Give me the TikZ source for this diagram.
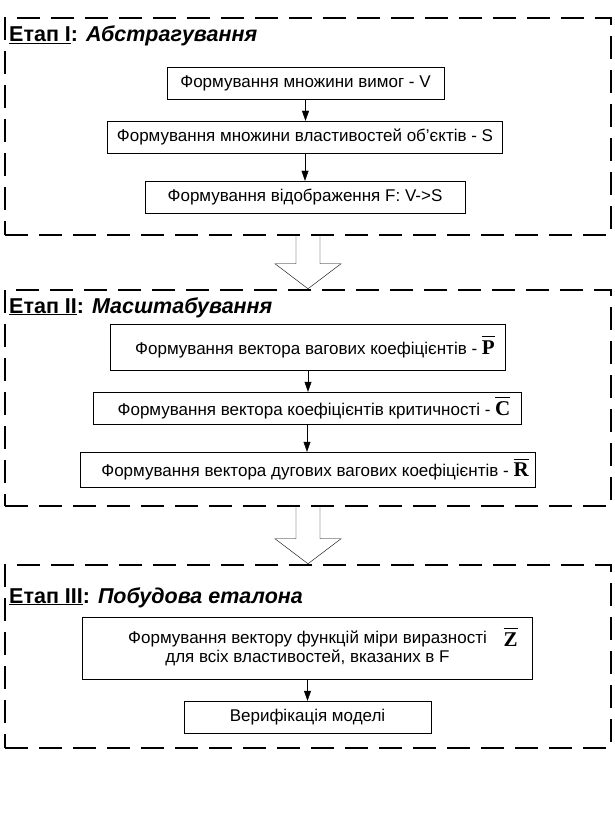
\documentclass[tikz,border=0pt]{standalone}
\usepackage{fontspec}
\setmainfont{Liberation Sans}
\newfontfamily\serifbf{Liberation Serif}
\usetikzlibrary{calc}
\usetikzlibrary{arrows.meta, positioning}
\newcommand{\barvec}[1]{\leavevmode\vbox{\hrule height 1.2pt \kern 3.5pt \hbox{\serifbf\bfseries\fontsize{21pt}{21pt}\selectfont #1}}} % bold letter with a bar over it
\newcommand{\stagetitle}[2]{\textbf{\underline{Етап #1}: \textit{#2}}} % #1: number, #2: stage name

\begin{document}
\begin{tikzpicture}[x=1pt, y=-1pt,
  every node/.style={font=\fontsize{17pt}{19pt}\selectfont},
  box/.style={draw, thin, inner sep=0pt, minimum height=32pt},
  frame/.style={draw, line width=2.5pt, dash pattern=on 23pt off 11pt, inner sep=0pt},
  flow/.style={-{Triangle[length=10pt, width=7pt]}, thin},
  title/.style={anchor=base west, inner sep=0pt, font=\fontsize{21.5pt}{23pt}\selectfont}]

\useasboundingbox (0,0) rectangle (615,813);

% Stage frames
\node[frame, minimum width=606pt, minimum height=217pt] (f1) at (308,126.5) {};
\node[frame, minimum width=606pt, minimum height=216pt] (f2) at (308,398) {};
\node[frame, minimum width=606pt, minimum height=183pt] (f3) at (308,656.5) {};

% Titles
\node[title] (t1) at (9,42) {\stagetitle{I}{Абстрагування}};
\node[title] (t2) at (9,313) {\stagetitle{II}{Масштабування}};
\node[title] (t3) at (9,603) {\stagetitle{III}{Побудова еталона}};

% Stage I
\node[box, minimum width=277pt] (v) at (305.5,83) {Формування множини вимог - V};
\node[box, minimum width=395pt] (s) at (305,137) {Формування множини властивостей об'єктів - S};
\node[box, minimum width=320pt] (fm) at (305,197) {Формування відображення F: V->S};

% Stage II
\node[box, minimum width=395pt, minimum height=46pt] (p) at (308,347) {\hspace*{14pt}Формування вектора вагових коефіцієнтів - \barvec{P}};
\node[box, minimum width=428pt] (c) at (307,408) {\hspace*{14pt}Формування вектора коефіцієнтів критичності - \barvec{C}};
\node[box, minimum width=455pt, minimum height=35pt] (r) at (308,469.5) {\hspace*{14pt}Формування вектора дугових вагових коефіцієнтів - \barvec{R}};

% Stage III
\node[box, minimum width=450pt, minimum height=62pt, align=center] (z) at (307.5,648) {Формування вектору функцій міри виразності\\для всіх властивостей, вказаних в F};
\node[anchor=base, inner sep=0pt] (zbar) at (510.5,646) {\barvec{Z}};
\node[box, minimum width=247pt] (ver) at (307.5,717) {Верифікація моделі};

% Arrows inside the stages
\draw[flow] (v.south) -- (v.south |- s.north);
\draw[flow] (s.south) -- (s.south |- fm.north);
\draw[flow] (p.south) -- (p.south |- c.north);
\draw[flow] (c.south) -- (c.south |- r.north);
\draw[flow] (z.south) -- (z.south |- ver.north);

% Hollow arrows between the stages
\foreach \a/\b in {f1/f2, f2/f3}
{
  \draw ($(\a.south)+(-12,0)$) -- ($(\b.north)+(-12,-25)$) -- ($(\b.north)+(-33,-25)$) -- (\b.north)
    -- ($(\b.north)+(33,-25)$) -- ($(\b.north)+(12,-25)$) -- ($(\a.south)+(12,0)$);
}

\end{tikzpicture}
\end{document}
